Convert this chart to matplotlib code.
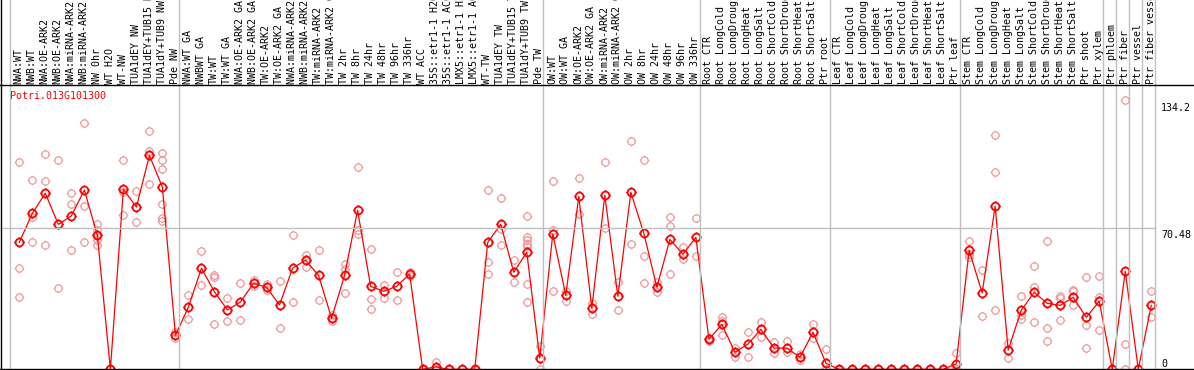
import numpy as np
import matplotlib
matplotlib.use("Agg")
import matplotlib.pyplot as plt
from matplotlib.path import Path
from matplotlib.lines import Line2D
from matplotlib.transforms import blended_transform_factory

gene = "Potri.013G101300"

labels = [
    # group 1
    "NWA:WT", "NWB:WT", "NWA:OE-ARK2", "NWB:OE-ARK2", "NWA:miRNA-ARK2", "NWB:miRNA-ARK2",
    "NW 0hr", "WT H2O", "WT-NW", "TUA1dEY NW", "TUA1dEY+TUB15 NW", "TUA1dY+TUB9 NW", "Pde NW",
    # group 2
    "NWA:WT GA", "NWBWT GA", "TW:WT", "TW:WT GA", "NWA:OE-ARK2 GA", "NWB:OE-ARK2 GA",
    "TW:OE-ARK2", "TW:OE-ARK2 GA", "NWA:miRNA-ARK2 GA", "NWB:miRNA-ARK2 GA", "TW:miRNA-ARK2",
    "TW:miRNA-ARK2 GA", "TW 2hr", "TW 8hr", "TW 24hr", "TW 48hr", "TW 96hr", "TW 336hr",
    "WT ACC", "35S::etr1-1 H2O", "35S::etr1-1 ACC", "LMX5::etr1-1 H2O", "LMX5::etr1-1 ACC",
    "WT-TW", "TUA1dEY TW", "TUA1dEY+TUB15 TW", "TUA1dY+TUB9 TW", "Pde TW",
    # group 3
    "OW:WT", "OW:WT GA", "OW:OE-ARK2", "OW:OE-ARK2 GA", "OW:miRNA-ARK2", "OW:miRNA-ARK2 GA",
    "OW 2hr", "OW 8hr", "OW 24hr", "OW 48hr", "OW 96hr", "OW 336hr",
    # root
    "Root CTR", "Root LongCold", "Root LongDrought", "Root LongHeat", "Root LongSalt",
    "Root ShortCold", "Root ShortDrought", "Root ShortHeat", "Root ShortSalt", "Ptr root",
    # leaf
    "Leaf CTR", "Leaf LongCold", "Leaf LongDrought", "Leaf LongHeat", "Leaf LongSalt",
    "Leaf ShortCold", "Leaf ShortDrought", "Leaf ShortHeat", "Leaf ShortSalt", "Ptr leaf",
    # stem
    "Stem CTR", "Stem LongCold", "Stem LongDrought", "Stem LongHeat", "Stem LongSalt",
    "Stem ShortCold", "Stem ShortDrought", "Stem ShortHeat", "Stem ShortSalt", "Ptr shoot", "Ptr xylem",
    # tissues
    "Ptr phloem", "Ptr fiber", "Ptr vessel", "Ptr fiber vessel",
]
group_sizes = [13, 28, 12, 10, 10, 11, 1, 1, 1, 1]

means = [
    63.3, 77.8, 87.8, 72.3, 76.5, 89.4, 66.8, 0, 89.8, 80.9, 106.7, 90.8, 17.0,
    31.1, 50.4, 38.6, 29.6, 33.6, 42.9, 40.9, 32.1, 50.4, 54.4, 46.9, 25.4, 46.9, 79.3,
    41.4, 38.9, 41.4, 47.5, 0, 1.2, 0, 0, 0, 63.3, 72.3, 48.4, 58.4, 5.6,
    67.5, 36.9, 86.3, 30.4, 86.8, 36.4, 88.3, 67.8, 40.9, 64.8, 57.4, 65.8,
    15.0, 22.4, 8.5, 12.6, 19.9, 10.6, 10.6, 6.0, 18.5, 3.0,
    0, 0, 0, 0, 0, 0, 0, 0, 0, 2.7,
    59.4, 38.1, 81.3, 9.6, 29.4, 38.4, 32.9, 31.9, 35.9, 25.9, 33.9,
    0, 48.9, 0, 31.9,
]

replicates = [
    [103.2, 50.4, 35.9], [94.3, 76.1, 63.3], [107.2, 93.8, 61.8], [104.2, 40.4],
    [87.8, 82.3, 59.4], [122.7, 81.4, 63.3], [72.3, 69.5, 67.0, 64.5, 62.0], [0, 0],
    [104.2, 88.6, 76.8], [88.9, 73.3], [118.7, 108.7, 92.3],
    [107.9, 104.2, 99.8, 82.3, 75.6, 74.0], [18.6, 15.6],
    [36.9, 25.1], [58.9, 41.9], [47.0, 45.9, 22.4], [35.4, 24.1], [42.9, 24.6],
    [44.5, 41.5], [42.5, 39.5], [44.0, 20.6], [66.8, 33.6], [57.0, 54.4, 51.2],
    [59.4, 34.6], [27.0, 24.0], [52.5, 49.9, 38.1], [100.7, 69.5, 67.5],
    [59.9, 34.9, 29.9], [42.0, 35.4], [48.5, 34.4], [48.5, 46.5], [0, 0],
    [3.6, 0, 0], [0, 0], [0, 0], [0, 0], [89.3, 53.4, 47.4], [85.3, 69.8, 61.8],
    [54.4, 43.4], [76.3, 65.9, 64.4, 62.7, 61.4, 42.4, 33.4], [11.5, 5.0, 0],
    [93.8, 69.5, 38.9], [38.9, 34.2], [95.3, 77.3], [33.1, 27.6], [103.2, 70.3],
    [43.4, 29.4], [113.9, 62.3], [104.2, 56.4, 42.9], [43.4, 38.7],
    [75.8, 71.3, 47.4], [61.0, 54.9], [75.3, 56.4],
    [15.6, 14.2], [25.9, 24.2, 17.0], [10.5, 6.0], [18.5, 6.0], [23.4, 16.3],
    [13.5, 8.0], [13.9, 8.6], [7.4, 4.8], [22.4, 15.5], [10.0, 0, 0],
    [0, 0], [0, 0], [0, 0], [0, 0], [0, 0], [0, 0], [0, 0], [0, 0], [0, 0], [8.0, 0, 0],
    [63.8, 57.4, 56.2], [49.4, 26.4], [116.7, 98.3, 29.4], [13.0, 5.6],
    [36.4, 27.0, 25.0], [51.4, 41.0, 23.4], [63.8, 20.4, 14.0], [36.4, 35.4, 24.4],
    [39.4, 38.9, 31.9], [45.9, 21.9, 10.5], [46.4, 35.9, 19.5],
    [0, 0], [134.2, 12.5, 0], [0, 0], [38.9, 25.9],
]

y_top = 140.96
y_ticks = [134.2, 70.48, 0]

LINE_RED = "#ff0000"
REP_PINK = "#ee9a9a"
GRID = "#c0c0c0"

W, H = 1194, 370
fig = plt.figure(figsize=(W / 100, H / 100), dpi=100)
fig.patch.set_facecolor("white")

# plot region in pixels
left_px, right_px = 10, 1155
top_px, bottom_px = 86.7, 369.3
ax = fig.add_axes([left_px / W, (H - bottom_px) / H,
                   (right_px - left_px) / W, (bottom_px - top_px) / H])
ax.set_axis_off()
n = len(labels)
off = 0.715
ax.set_xlim(-off, n - off)
ax.set_ylim(0, y_top)

# circle marker with four small ticks
circ = Path.unit_circle()
verts = list(circ.vertices)
codes = list(circ.codes)
for dx, dy in [(0, 1), (0, -1), (1, 0), (-1, 0)]:
    verts += [(dx * 1.0, dy * 1.0), (dx * 1.3, dy * 1.3)]
    codes += [Path.MOVETO, Path.LINETO]
tick_circle = Path(verts, codes)

xs = np.arange(n)
for i, reps in enumerate(replicates):
    ax.plot([i] * len(reps), reps, linestyle="none", marker=tick_circle,
            markersize=6.8, markerfacecolor="none", markeredgecolor=REP_PINK,
            markeredgewidth=0.9, clip_on=False, zorder=2)

ax.plot(xs, means, color=LINE_RED, linewidth=0.9, marker=tick_circle,
        markersize=7.3, markerfacecolor="none", markeredgecolor=LINE_RED,
        markeredgewidth=1.3, clip_on=False, zorder=3)

# group separators running through the label strip
bounds = np.concatenate([[0], np.cumsum(group_sizes)]) - off
vtrans = blended_transform_factory(ax.transData, fig.transFigure)
for b in bounds:
    fig.add_artist(Line2D([b, b], [0, 1], transform=vtrans, color=GRID,
                          linewidth=1.0, zorder=1))

htrans = blended_transform_factory(fig.transFigure, ax.transData)
fig.add_artist(Line2D([0, right_px / W], [y_ticks[1], y_ticks[1]],
                      transform=htrans, color=GRID, linewidth=1.0, zorder=1))

# frame lines
for ypx in [85, 369]:
    fig.add_artist(Line2D([0, 1], [(H - ypx) / H] * 2, transform=fig.transFigure,
                          color="black", linewidth=1.0))
fig.add_artist(Line2D([1 / W, 1 / W], [0, 1], transform=fig.transFigure,
                      color="black", linewidth=1.0))

mono = "DejaVu Sans Mono"
fs = 7.2
ltrans = blended_transform_factory(ax.transData, fig.transFigure)
for i, lab in enumerate(labels):
    fig.text(i - 0.05, (H - 84) / H, lab, rotation=90, ha="center", va="bottom",
             family=mono, fontsize=fs, color="black", transform=ltrans)

fig.text(10 / W, (H - 96) / H, gene, ha="left", va="center", family=mono,
         fontsize=fs, color=LINE_RED)

for v in y_ticks:
    txt = "0" if v == 0 else f"{v:g}"
    fig.text(1161 / W, v - (0 if v == 0 else 1.2), txt, ha="left",
             va="bottom" if v == 0 else "top",
             family=mono, fontsize=fs, color="black", transform=htrans)

fig.savefig("out.png", dpi=100)
